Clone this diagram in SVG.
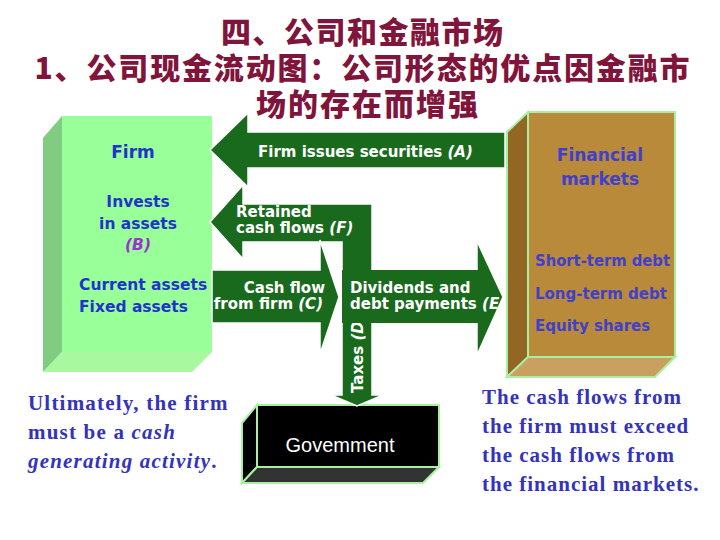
<svg xmlns="http://www.w3.org/2000/svg" width="720" height="540" viewBox="0 0 720 540">
<defs>
<style>
.title{font-family:"Noto Sans CJK SC","Noto Sans CJK JP",sans-serif;font-weight:900;font-size:30px;fill:#80143a;text-anchor:middle}
.arrow{fill:#1a6a1e;stroke:#ffffff;stroke-width:1.5}
.wt{font-family:"DejaVu Sans",Verdana,sans-serif;font-weight:bold;font-size:15px;fill:#ffffff}
.fl{font-family:"DejaVu Sans",Verdana,sans-serif;font-weight:bold;fill:#2233cc}
.ml{font-family:"DejaVu Sans",Verdana,sans-serif;font-weight:bold;fill:#4040cc}
.note{font-family:"Liberation Serif","Times New Roman",serif;font-weight:bold;fill:#3333bb;font-size:21px}
.edge{stroke:#a8f0a0;stroke-width:2}
</style>
<clipPath id="divclip"><polygon points="342,270 477,270 477,241 503,297 477,355 477,323 342,323"/></clipPath>
</defs>
<rect width="720" height="540" fill="#ffffff"/>
<g id="title">
<text class="title" x="362" y="43" textLength="282" lengthAdjust="spacing">四、公司和金融市场</text>
<text class="title" x="362" y="79" textLength="655" lengthAdjust="spacing">1、公司现金流动图：公司形态的优点因金融市</text>
<text class="title" x="367" y="115" textLength="222" lengthAdjust="spacing">场的存在而增强</text>
</g>
<g id="firm">
<polygon points="43,138 62,116 62,352 43,372" fill="#80cc80"/>
<polygon points="62,352 212,352 192,372 43,372" fill="#a8f8a0"/>
<rect x="62" y="116" width="150" height="236" fill="#99ff99"/>
<text class="fl" x="133" y="158" font-size="17" text-anchor="middle">Firm</text>
<text class="fl" x="138" y="207" font-size="15.5" text-anchor="middle">Invests</text>
<text class="fl" x="138" y="229" font-size="15.5" text-anchor="middle">in assets</text>
<text x="138" y="250" font-family="DejaVu Sans,Verdana,sans-serif" font-weight="bold" font-style="italic" font-size="15.5" fill="#9933cc" text-anchor="middle">(B)</text>
<text class="fl" x="79" y="290" font-size="15.5">Current assets</text>
<text class="fl" x="79" y="312" font-size="15.5">Fixed assets</text>
</g>
<g id="financial-markets">
<polygon points="507,132 528,112 528,357 507,377" fill="#946624" class="edge"/>
<polygon points="528,357 675,357 655,377 507,377" fill="#c9a060" class="edge"/>
<rect x="528" y="112" width="147" height="245" fill="#b98a3a" class="edge"/>
<text class="ml" x="600" y="161" font-size="17" text-anchor="middle">Financial</text>
<text class="ml" x="600" y="185" font-size="17" text-anchor="middle">markets</text>
<text class="ml" x="535" y="266" font-size="15" textLength="135" lengthAdjust="spacingAndGlyphs">Short-term debt</text>
<text class="ml" x="535" y="299" font-size="15">Long-term debt</text>
<text class="ml" x="535" y="331" font-size="15">Equity shares</text>
</g>
<g id="government">
<polygon points="242,423 257,405 257,467 242,483" fill="#000000" class="edge"/>
<polygon points="257,467 439,467 423,483 242,483" fill="#333333" class="edge"/>
<rect x="257" y="405" width="182" height="62" fill="#000000" class="edge"/>
<text x="340" y="452" font-family="Liberation Sans,Arial,sans-serif" font-size="20" fill="#ffffff" text-anchor="middle">Govemment</text>
</g>
<g id="connectors">
<g id="arrow-A">
<polygon class="arrow" points="210,150 248,113 248,132 505,132 505,168 248,168 248,187"/>
<text class="wt" x="258" y="157" font-size="16">Firm issues securities <tspan font-style="italic">(A)</tspan></text>
</g>
<g id="arrow-F-D">
<polygon class="arrow" points="210,222 243,185 243,204 372,204 372,395 383,395 357,406 331,395 342,395 342,242 243,242 243,259"/>
<text class="wt" x="236" y="217">Retained</text>
<text class="wt" x="236" y="233">cash flows <tspan font-style="italic">(F)</tspan></text>
<text class="wt" transform="translate(363,393) rotate(-90)">Taxes <tspan font-style="italic">(D)</tspan></text>
</g>
<g id="arrow-C">
<polygon class="arrow" points="212,270 320,270 320,240 339,297 320,354 320,323 212,323"/>
<text class="wt" x="325" y="293" text-anchor="end">Cash flow</text>
<text class="wt" x="323" y="309" text-anchor="end">from firm <tspan font-style="italic">(C)</tspan></text>
</g>
<g id="arrow-E">
<polygon points="342,270 477,270 477,241 503,297 477,355 477,323 342,323" fill="#1a6a1e"/>
<polyline points="477,270 477,241 503,297 477,355 477,323" fill="none" stroke="#ffffff" stroke-width="1.5"/>
<text class="wt" x="350" y="293">Dividends and</text>
<text class="wt" x="350" y="309" clip-path="url(#divclip)">debt payments <tspan font-style="italic">(E</tspan></text>
</g>
</g>
<g id="notes">
<text class="note" x="28" y="410" letter-spacing="1.2">Ultimately, the firm</text>
<text class="note" x="28" y="439" letter-spacing="1.2">must be a <tspan font-style="italic">cash</tspan></text>
<text class="note" x="28" y="468" letter-spacing="1.2"><tspan font-style="italic">generating activity</tspan>.</text>
<text class="note" x="482" y="404" letter-spacing="1">The cash flows from</text>
<text class="note" x="482" y="433" letter-spacing="1">the firm must exceed</text>
<text class="note" x="482" y="462" letter-spacing="1">the cash flows from</text>
<text class="note" x="482" y="491" letter-spacing="1">the financial markets.</text>
</g>
</svg>
